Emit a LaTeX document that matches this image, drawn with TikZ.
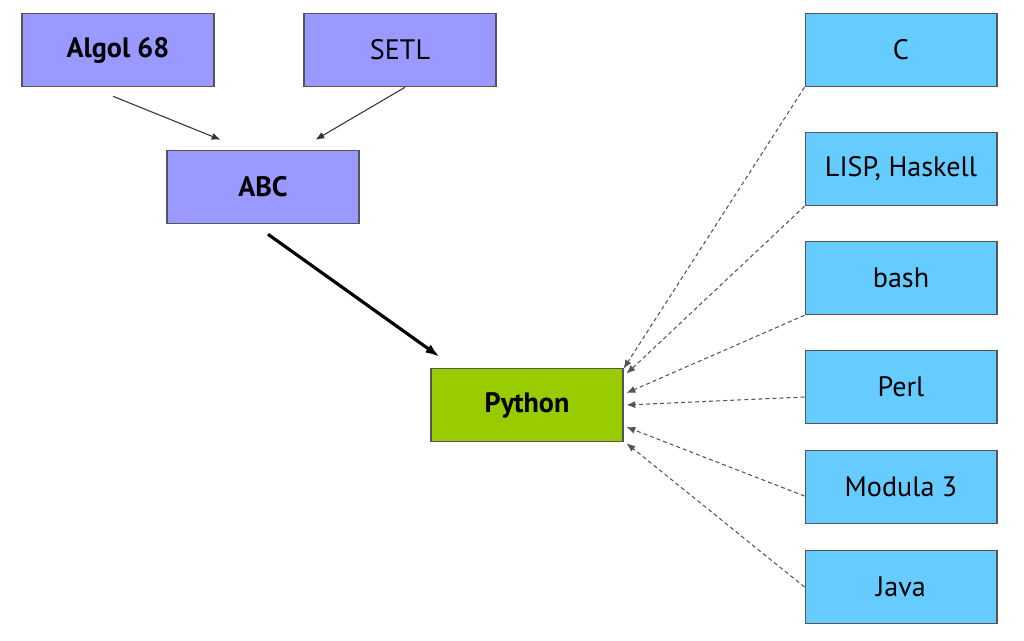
\documentclass[tikz,border=0pt]{standalone}
\usepackage{fontspec}
\setmainfont{PT Sans}
\usetikzlibrary{arrows.meta,positioning}
\newcommand{\pxu}{0.02cm}
\definecolor{ancestor}{HTML}{9999FF}
\definecolor{influence}{HTML}{66CCFF}
\definecolor{pyfill}{HTML}{99CC00}
\definecolor{edgegray}{HTML}{555555}
\tikzset{
    %Define standard arrow tip
    >={Latex[length=5pt,width=4pt]},
    %Define style for boxes
    langrect/.style={
           rectangle,
           draw=edgegray, line width=0.6pt,
           minimum width=3.84cm,
           minimum height=1.47cm,
           inner sep=0pt,
           font=\fontsize{16}{19}\selectfont,
           text centered},
    ancestorrect/.style={
           langrect,
           fill=ancestor},
    influencerect/.style={
           langrect,
           fill=influence},
    targetrect/.style={
           langrect,
           fill=pyfill,
           font=\fontsize{16}{19}\selectfont\bfseries},
    % Define arrow styles
    pil/.style={
           ->,
           draw=black!80,
           line width=0.6pt},
    dpil/.style={
           ->,
           draw=edgegray,
           line width=0.6pt,
           dash pattern=on 2.3pt off 1.7pt},
    bigpil/.style={
           -{Latex[length=8pt,width=5.5pt]},
           draw=black,
           line width=1.8pt}
}
\begin{document}
\begin{tikzpicture}[x=\pxu,y=-\pxu]
\useasboundingbox (0,0) rectangle (1024,640);
\node[ancestorrect,font=\fontsize{16}{19}\selectfont\bfseries](algol) at (118,50){Algol 68};
\node[ancestorrect](setl) at (400,50){SETL};
\node[ancestorrect,font=\fontsize{16}{19}\selectfont\bfseries](abc) at (263,187){ABC};
\node[targetrect](python) at (527,405){Python};
\node[influencerect](c) at (901,50){C};
\node[influencerect](lisp) at (901,169){LISP, Haskell};
\node[influencerect](bash) at (901,278){bash};
\node[influencerect](perl) at (901,387){Perl};
\node[influencerect](modula) at (901,487){Modula 3};
\node[influencerect](java) at (901,587){Java};
% ancestors
\draw[pil] ([xshift=-5*\pxu,yshift=-9*\pxu]algol.south) -- ([xshift=54*\pxu,yshift=10*\pxu]abc.north west);
\draw[pil] ([xshift=5*\pxu]setl.south) -- ([xshift=-44*\pxu,yshift=10*\pxu]abc.north east);
\draw[bigpil] ([xshift=5*\pxu,yshift=-10*\pxu]abc.south) -- ([xshift=9*\pxu,yshift=11*\pxu]python.north west);
% influences
\draw[dpil] (c.south west) -- ([yshift=-1*\pxu]python.north east);
\draw[dpil] (lisp.south west) -- ([xshift=3*\pxu,yshift=-6*\pxu]python.north east);
\draw[dpil] (bash.south west) -- ([xshift=3*\pxu,yshift=12*\pxu]python.east);
\draw[dpil] ([yshift=-10*\pxu]perl.west) -- ([xshift=3*\pxu]python.east);
\draw[dpil] ([yshift=-9*\pxu]modula.west) -- ([xshift=3*\pxu,yshift=-22*\pxu]python.east);
\draw[dpil] (java.west) -- ([xshift=3*\pxu,yshift=-1*\pxu]python.south east);
\end{tikzpicture}
\end{document}
